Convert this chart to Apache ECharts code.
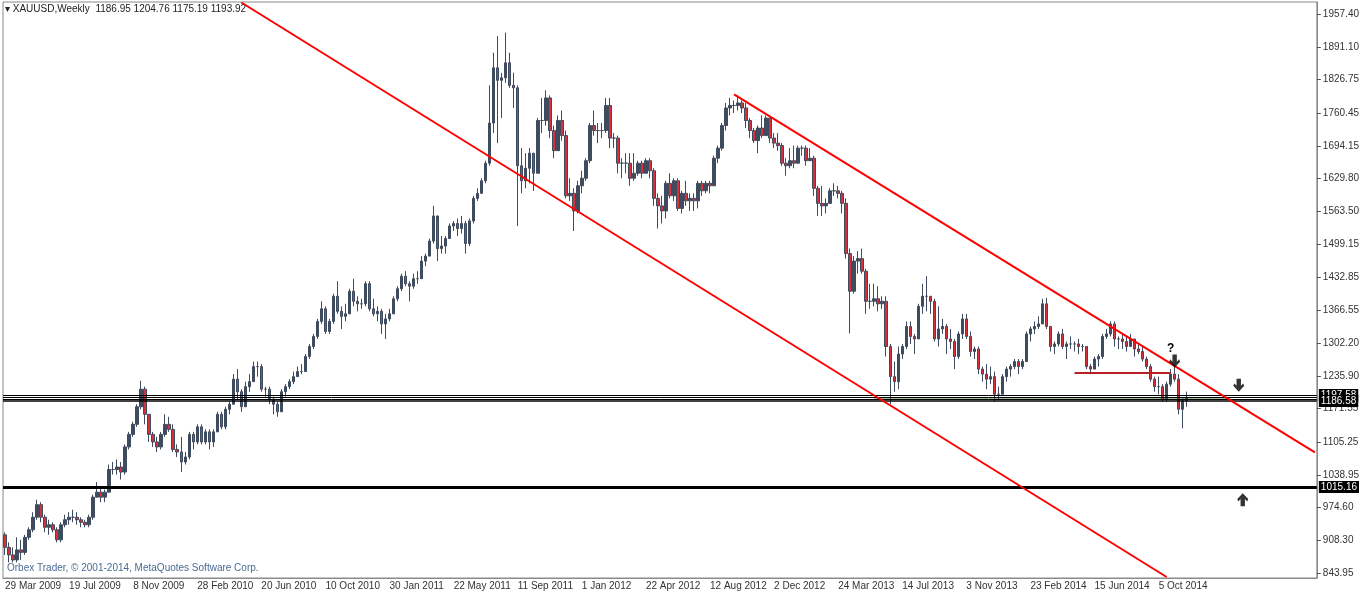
<!DOCTYPE html>
<html>
<head>
<meta charset="utf-8">
<script src="https://cdn.jsdelivr.net/npm/echarts@6/dist/echarts.min.js"></script>
<style>
  html, body { margin: 0; padding: 0; background: #fff; }
  #chart { width: 1362px; height: 594px; }
</style>
</head>
<body>
<div id="chart"></div>
<script>
// weekly bars, [close, low, high]; open = previous close
var firstOpen = 920;
var bars = [
  // 2009
  [895,880,925],[880,865,905],[870,865,895],[890,865,915],
  [885,870,910],[915,880,920],[930,910,935],[955,925,965],
  [980,950,990],[955,945,985],[935,925,960],[940,920,950],
  [930,925,945],[910,905,935],[940,905,945],[950,935,960],[955,940,965],
  [955,945,970],[950,940,965],[945,935,955],[940,935,950],
  [955,935,960],[995,950,1000],[1005,995,1025],[995,985,1015],
  [1005,985,1010],[1050,1005,1060],[1050,1040,1065],[1055,1040,1070],[1045,1030,1065],
  [1095,1040,1100],[1120,1090,1125],[1140,1115,1145],[1175,1135,1180],
  [1210,1170,1227],[1160,1140,1215],[1120,1105,1160],[1105,1095,1125],[1095,1085,1115],
  // 2010
  [1120,1090,1125],[1140,1115,1160],[1130,1125,1155],[1090,1085,1140],[1085,1075,1100],
  [1065,1045,1115],[1075,1060,1085],[1120,1070,1125],[1105,1090,1125],
  [1135,1100,1140],[1105,1100,1140],[1125,1100,1130],[1105,1090,1130],
  [1125,1095,1130],[1160,1125,1165],[1135,1130,1165],[1170,1130,1175],
  [1180,1160,1185],[1230,1180,1240],[1205,1190,1250],[1175,1165,1210],
  [1215,1180,1225],[1225,1205,1240],[1255,1225,1265],[1255,1235,1265],
  [1210,1205,1260],[1210,1195,1215],[1190,1180,1215],[1180,1160,1195],[1165,1155,1185],
  [1205,1165,1210],[1215,1195,1220],[1225,1210,1230],[1235,1220,1245],
  [1245,1235,1255],[1245,1240,1260],[1275,1245,1280],[1295,1270,1300],
  [1315,1290,1320],[1345,1310,1350],[1370,1340,1385],[1325,1320,1375],[1345,1320,1350],
  [1395,1340,1400],[1365,1360,1425],[1355,1330,1375],[1360,1345,1380],
  [1405,1360,1410],[1385,1375,1430],[1380,1365,1395],[1380,1370,1390],[1420,1375,1425],
  // 2011
  [1370,1365,1425],[1360,1355,1390],[1365,1345,1375],[1340,1320,1370],
  [1350,1310,1360],[1360,1345,1370],[1390,1360,1395],[1410,1385,1415],
  [1435,1405,1440],[1420,1415,1445],[1415,1385,1425],[1430,1410,1440],
  [1430,1420,1445],[1465,1430,1475],[1475,1455,1480],[1505,1475,1510],
  [1555,1500,1575],[1490,1465,1545],[1495,1480,1515],[1510,1480,1515],[1535,1510,1540],
  [1540,1525,1545],[1530,1515,1550],[1540,1520,1555],[1500,1480,1545],
  [1545,1495,1550],[1590,1540,1595],[1600,1585,1610],[1625,1600,1630],
  [1660,1620,1665],[1740,1655,1815],[1850,1720,1880],[1825,1700,1913],[1830,1750,1840],
  [1860,1820,1920],[1815,1810,1880],[1810,1770,1840],[1655,1535,1815],
  [1625,1600,1690],[1650,1610,1680],[1680,1620,1690],[1640,1605,1680],[1745,1640,1750],
  [1745,1720,1790],[1790,1735,1805],[1725,1710,1795],[1685,1670,1735],
  [1745,1685,1755],[1715,1705,1765],[1595,1590,1725],[1600,1585,1630],[1565,1525,1610],
  // 2012
  [1615,1560,1625],[1630,1600,1645],[1665,1625,1670],[1735,1660,1740],
  [1725,1715,1765],[1725,1700,1740],[1725,1710,1740],[1775,1720,1790],[1710,1690,1790],
  [1710,1690,1720],[1660,1640,1715],[1660,1630,1670],[1660,1640,1680],
  [1630,1615,1680],[1640,1625,1680],[1660,1635,1665],[1640,1630,1665],
  [1665,1640,1670],[1645,1630,1670],[1590,1575,1650],[1575,1530,1600],[1565,1540,1595],
  [1620,1550,1625],[1595,1590,1640],[1625,1585,1630],[1570,1565,1630],
  [1600,1560,1605],[1585,1575,1625],[1590,1565,1600],[1585,1565,1600],[1620,1570,1625],
  [1605,1595,1625],[1620,1600,1625],[1615,1600,1625],[1670,1615,1675],
  [1690,1660,1695],[1735,1685,1740],[1770,1725,1780],[1775,1755,1790],[1775,1760,1785],
  [1780,1765,1795],[1770,1760,1785],[1745,1730,1780],[1725,1710,1750],
  [1705,1700,1730],[1730,1680,1735],[1715,1710,1755],[1750,1715,1755],
  [1710,1700,1750],[1700,1690,1720],[1695,1685,1720],[1660,1655,1700],[1655,1635,1670],
  // 2013
  [1665,1650,1690],[1660,1650,1695],[1690,1665,1695],[1690,1675,1695],
  [1665,1655,1695],[1670,1665,1690],[1610,1595,1675],[1580,1555,1615],
  [1575,1555,1615],[1580,1560,1590],[1605,1585,1610],[1605,1595,1620],
  [1600,1590,1615],[1580,1560,1605],[1480,1470,1590],[1405,1321,1490],
  [1465,1400,1475],[1470,1440,1485],[1445,1440,1490],[1385,1360,1450],[1385,1370,1420],
  [1390,1375,1420],[1380,1365,1415],[1385,1370,1395],[1295,1275,1395],[1235,1180,1300],
  [1225,1205,1265],[1280,1210,1295],[1295,1270,1300],[1335,1290,1345],
  [1315,1300,1345],[1310,1280,1320],[1375,1310,1380],[1395,1360,1420],
  [1395,1365,1435],[1385,1360,1395],[1310,1305,1390],[1330,1295,1375],[1335,1320,1350],
  [1310,1280,1340],[1305,1290,1330],[1275,1250,1310],[1320,1270,1325],[1350,1310,1360],
  [1315,1310,1360],[1285,1275,1325],[1290,1270,1295],[1250,1240,1295],
  [1240,1225,1255],[1230,1210,1260],[1235,1220,1255],[1200,1185,1245],[1200,1190,1215],
  // 2014
  [1235,1205,1240],[1250,1225,1255],[1255,1235,1260],[1265,1250,1270],
  [1255,1240,1270],[1265,1250,1270],[1320,1265,1325],[1330,1305,1335],
  [1335,1320,1345],[1340,1330,1355],[1380,1340,1390],[1335,1330,1392],[1295,1285,1335],
  [1300,1280,1305],[1320,1295,1325],[1295,1290,1330],[1300,1270,1305],
  [1300,1290,1315],[1300,1285,1305],[1295,1280,1310],[1295,1285,1300],
  [1255,1250,1295],[1250,1240,1260],[1270,1250,1275],[1275,1255,1280],[1315,1270,1320],
  [1320,1310,1330],[1340,1315,1345],[1310,1295,1345],[1310,1290,1315],
  [1305,1290,1320],[1295,1285,1315],[1310,1300,1320],[1290,1275,1310],[1285,1280,1300],
  [1270,1265,1295],[1255,1250,1275],[1230,1225,1260],[1215,1205,1235],
  [1215,1200,1235],[1190,1185,1220],[1220,1185,1225],[1240,1215,1250],[1230,1225,1255],
  [1170,1160,1240],[1187,1132,1192],[1194,1175,1205]
];
var totalWeeks = 328;
var lastLabelWeek = 290;
var startDate = Date.UTC(2009, 2, 29);
var yTicks = [1957.40,1891.10,1826.75,1760.45,1694.15,1629.80,1563.50,1499.15,1432.85,
  1366.55,1302.20,1235.90,1171.55,1105.25,1038.95,974.60,908.30,843.95];
var levels = [1198.5, 1194.5, 1190.5, 1186.6];
var levelLabels = ['1197.58', '', '', '1186.58'];
var lowLevel = 1015.16;
var zone = [[217, 1188.5], [306, 1193]];
var channelA = [[59, 1980], [290, 836]];
var channelB = [[182, 1797], [327, 1084]];
var shortRed = [[267, 1243], [291, 1243]];
var downArrows = [[292, 1266], [308, 1218]];
var upArrows = [[309, 990]];

var months = ['Jan','Feb','Mar','Apr','May','Jun','Jul','Aug','Sep','Oct','Nov','Dec'];
var cats = [];
for (var w = 0; w < totalWeeks; w++) {
  var d = new Date(startDate + w * 7 * 86400000);
  cats.push(d.getUTCDate() + ' ' + months[d.getUTCMonth()] + ' ' + d.getUTCFullYear());
}
var ohlc = [];
var prev = firstOpen;
bars.forEach(function (b) {
  ohlc.push([prev, b[0], b[1], b[2]]);
  prev = b[0];
});

var arrowDown = 'path://M3,0 L7,0 L7,6 L9,4 L10,6 L5,11 L0,6 L1,4 L3,6 Z';
var arrowUp = 'path://M3,11 L7,11 L7,5 L9,7 L10,5 L5,0 L0,5 L1,7 L3,5 Z';
var font = 'Tahoma, "Liberation Sans", sans-serif';

var levelLines = levels.map(function (v, i) {
  return {
    yAxis: v,
    lineStyle: { color: '#000', width: i === 3 ? 1.6 : 1, type: 'solid' },
    label: levelLabels[i] ? {
      show: true, position: 'end', distance: 2,
      formatter: levelLabels[i], color: '#fff', backgroundColor: '#000',
      padding: [1, 2], fontSize: 10, fontFamily: font
    } : { show: false }
  };
});
levelLines.push({
  yAxis: lowLevel,
  lineStyle: { color: '#000', width: 3, type: 'solid' },
  label: { show: true, position: 'end', distance: 2, formatter: lowLevel.toFixed(2),
    color: '#fff', backgroundColor: '#000', padding: [1, 2], fontSize: 10, fontFamily: font }
});
function seg(p, color, width) {
  return [{ coord: p[0], lineStyle: { color: color, width: width, type: 'solid' } }, { coord: p[1] }];
}

var chart = echarts.init(document.getElementById('chart'));
chart.setOption({
  animation: false,
  backgroundColor: '#fff',
  graphic: [
    { type: 'text', left: 5, top: 4, style: { text: '\u25BE XAUUSD,Weekly  1186.95 1204.76 1175.19 1193.92', fontSize: 10, fontFamily: font, fill: '#222' } },
    { type: 'text', left: 7, top: 563, style: { text: 'Orbex Trader, \u00A9 2001-2014, MetaQuotes Software Corp.', fontSize: 10, fontFamily: font, fill: '#4a6a95' } },
    { type: 'text', left: 1167, top: 343, style: { text: '?', fontSize: 12, fontWeight: 'bold', fontFamily: font, fill: '#000' } }
  ],
  grid: { left: 3, right: 45, top: 2, bottom: 16, show: true, borderColor: '#8a8a8a', borderWidth: 1 },
  xAxis: {
    type: 'category', data: cats, boundaryGap: true,
    axisLine: { lineStyle: { color: '#8a8a8a' } },
    axisTick: { interval: function (i) { return i % 16 === 0 && i <= lastLabelWeek; }, length: 4, lineStyle: { color: '#555' } },
    axisLabel: { interval: function (i) { return i % 16 === 0 && i <= lastLabelWeek; },
      align: 'left', margin: 3, color: '#333', fontSize: 10, fontFamily: font },
    splitLine: { show: false }
  },
  yAxis: {
    type: 'value', position: 'right', min: 834, max: 1981, scale: true,
    axisLine: { show: true, lineStyle: { color: '#8a8a8a' } },
    axisTick: { show: true, length: 4, customValues: yTicks, lineStyle: { color: '#555' } },
    axisLabel: { customValues: yTicks, margin: 6, color: '#333', fontSize: 10, fontFamily: font,
      formatter: function (v) { return v.toFixed(2); } },
    splitLine: { show: false }
  },
  series: [
    {
      type: 'candlestick',
      data: ohlc,
      barWidth: 3,
      itemStyle: { color: '#3f4b5e', color0: '#d6303a', borderColor: '#3f4b5e', borderColor0: '#3f4b5e', borderWidth: 1 },
      markArea: {
        silent: true,
        itemStyle: { color: 'rgba(120,175,100,0.75)' },
        data: [[{ coord: zone[0] }, { coord: zone[1] }]]
      },
      markLine: {
        silent: true, symbol: 'none',
        data: levelLines.concat([
          seg(channelA, '#ff0000', 2),
          seg(channelB, '#ff0000', 2),
          seg(shortRed, '#b82025', 2)
        ])
      },
      z: 3
    },
    {
      type: 'scatter', symbol: arrowDown, symbolSize: [11, 13],
      itemStyle: { color: '#000' }, data: downArrows, z: 5
    },
    {
      type: 'scatter', symbol: arrowUp, symbolSize: [11, 13],
      itemStyle: { color: '#000' }, data: upArrows, z: 5
    }
  ]
});
</script>
</body>
</html>
